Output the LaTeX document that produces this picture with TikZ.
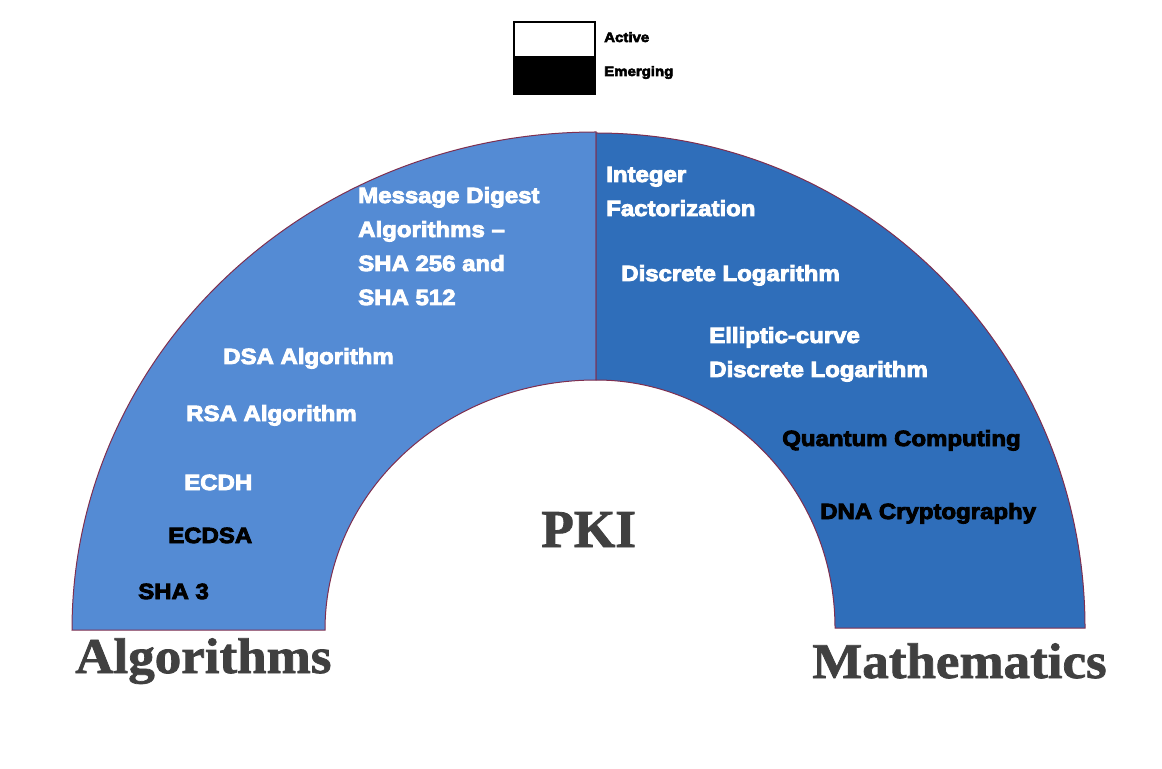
\documentclass[tikz,border=0pt]{standalone}
\usepackage{fontspec}
\newfontfamily\blk{Liberation Sans}[BoldFeatures={FakeStretch=1.09,FakeBold=4}]
\newfontfamily\ser{Liberation Serif}[BoldFeatures={FakeStretch=1.06,FakeBold=1.5}]
\newfontfamily\serp{Liberation Serif}[BoldFeatures={FakeBold=1.5}]
\definecolor{lblue}{HTML}{548BD4}
\definecolor{dblue}{HTML}{2F6EBA}
\definecolor{rim}{HTML}{7F2F4F}
\definecolor{gtxt}{HTML}{404040}
\tikzset{
  half/.style={draw=rim, line width=0.75pt},
  lab/.style={anchor=base west, inner sep=0pt, align=left, text=white,
    font=\blk\bfseries\fontsize{16.5}{25.5}\selectfont},
  blab/.style={lab, text=black},
  big/.style={anchor=base west, inner sep=0pt, text=gtxt,
    font=\ser\bfseries\fontsize{37.5}{40}\selectfont},
  leg/.style={anchor=base west, inner sep=0pt, text=black,
    font=\blk\bfseries\fontsize{10.3}{12}\selectfont},
}
\begin{document}
\begin{tikzpicture}[x=0.75pt,y=0.75pt]
\useasboundingbox (0,0) rectangle (1162,768);
% left half
\path[half, fill=lblue] (596,636) arc[start angle=90,end angle=180,x radius=393pt,y radius=373.5pt]
  -- (325,138) arc[start angle=180,end angle=90,x radius=203.25pt,y radius=187.5pt] -- cycle;
% right half
\path[half, fill=dblue] (596,635) arc[start angle=90,end angle=0,x radius=366.75pt,y radius=371.25pt]
  -- (835,140) arc[start angle=0,end angle=90,x radius=179.25pt,y radius=186pt] -- cycle;
% legend
\path[fill=white] (514,712) rectangle (595,746);
\path[fill=black] (514,674) rectangle (595,712);
\draw[line width=1.5pt] (514,674) rectangle (595,746);
\node[leg] (active) at (604,726) {Active};
\node[leg] (emerging) at (604,692) {Emerging};
% left labels
\node[lab] (md) at (358,463) {Message Digest\\Algorithms –\\SHA 256 and\\SHA 512};
\node[lab] (dsa) at (223,404) {DSA Algorithm};
\node[lab] (rsa) at (186,347) {RSA Algorithm};
\node[lab] (ecdh) at (184,278) {ECDH};
\node[blab] (ecdsa) at (168,225) {ECDSA};
\node[blab] (sha3) at (138,169) {SHA 3};
% right labels
\node[lab] (intf) at (606,552) {Integer\\Factorization};
\node[lab] (dlog) at (621,487) {Discrete Logarithm};
\node[lab] (ecdl) at (709,391) {Elliptic-curve\\Discrete Logarithm};
\node[blab] (qc) at (782,322) {Quantum Computing};
\node[blab] (dna) at (820,249) {DNA Cryptography};
% big titles
\node[anchor=base west, inner sep=0pt, text=gtxt, font=\serp\bfseries\fontsize{40}{44}\selectfont] (pki) at (541,221) {PKI};
\node[big] (alg) at (75,95) {Algorithms};
\node[big] (math) at (812,90) {Mathematics};
\end{tikzpicture}
\end{document}
